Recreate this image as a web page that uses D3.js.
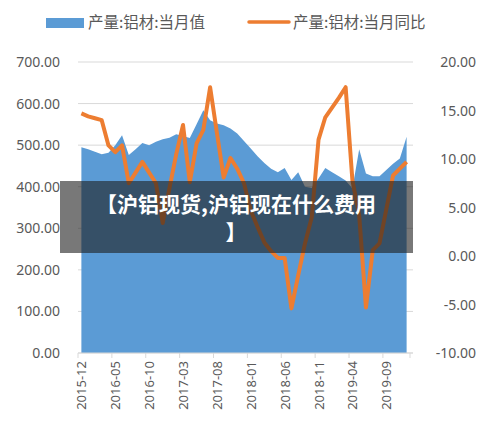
<!DOCTYPE html>
<html><head><meta charset="utf-8">
<script src="https://cdn.jsdelivr.net/npm/d3@7"></script>
<style>
body{margin:0;background:#fff;font-family:"Noto Sans CJK SC","Noto Sans",sans-serif;}
</style></head>
<body><div id="chart"></div>
<script>
// 月份
var months = [];
for (var i = 0; i < 49; i++) {
  var d = new Date(2015, 11 + i, 1);
  months.push(d.getFullYear() + '-' + String(d.getMonth() + 1).padStart(2, '0'));
}
// 产量:铝材:当月值
var volume = [495,490,484,478,482,500,524,476,490,505,500,508,514,518,526,522,517,550,584,560,
  552,548,540,528,510,492,473,457,443,435,445,416,435,400,397,420,445,435,425,415,
  396,490,432,425,425,440,455,468,520];
// 产量:铝材:当月同比
var yoy = [14.7,14.4,14.2,14.0,11.4,10.7,11.4,7.5,8.6,9.7,8.6,7.5,3.4,7.0,10.5,13.5,7.6,11.6,13.0,17.4,
  12.7,8.1,10.1,9.0,7.5,4.7,3.0,1.4,0.5,-0.2,-0.2,-5.4,-2.0,1.3,4.0,12.0,14.3,15.3,16.3,17.4,
  7.8,4.2,-5.3,0.6,1.3,4.8,8.3,9.0,9.7];
var leftTicks = [0,100,200,300,400,500,600,700];
var rightTicks = [-10,-5,0,5,10,15,20];
var seriesNames = ['产量:铝材:当月值', '产量:铝材:当月同比'];
var bannerText = ['【沪铝现货,沪铝现在什么费用', '】'];

var W = 489, H = 434;
var mLeft = 78, mRight = 410, mTop = 62, mBottom = 353;
var svg = d3.select('#chart').append('svg').attr('width', W).attr('height', H);

var x = d3.scaleBand().domain(months).range([mLeft, mRight]);
var yL = d3.scaleLinear().domain([0, 700]).range([mBottom, mTop]);
var yR = d3.scaleLinear().domain([-10, 20]).range([mBottom, mTop]);
var cx = function(i) { return x(months[i]) + x.bandwidth() / 2; };

// 网格
svg.selectAll('.grid').data(leftTicks).enter().append('line')
  .attr('x1', mLeft).attr('x2', mRight + 3)
  .attr('y1', function(d) { return yL(d); }).attr('y2', function(d) { return yL(d); })
  .attr('stroke', '#d9d9d9');

// 面积
var area = d3.area().x(function(d, i) { return cx(i); })
  .y0(yL(0)).y1(function(d) { return yL(d); });
svg.append('path').datum(volume).attr('d', area).attr('fill', '#5b9bd5');

// 折线
var line = d3.line().x(function(d, i) { return cx(i); }).y(function(d) { return yR(d); });
svg.append('path').datum(yoy).attr('d', line).attr('fill', 'none')
  .attr('stroke', '#ed7d31').attr('stroke-width', 4).attr('stroke-linejoin', 'round');

// 坐标轴
var txt = '#595959';
svg.append('line').attr('x1', mLeft).attr('x2', mRight + 3).attr('y1', mBottom).attr('y2', mBottom).attr('stroke', '#d9d9d9');
svg.selectAll('.tl').data(leftTicks).enter().append('text')
  .attr('x', 60).attr('y', function(d) { return yL(d) + 5; }).attr('text-anchor', 'end')
  .attr('fill', txt).attr('font-size', 14).attr('font-family', 'Noto Sans, sans-serif')
  .text(function(d) { return d.toFixed(2); });
svg.selectAll('.tr').data(rightTicks).enter().append('text')
  .attr('x', 476).attr('y', function(d) { return yR(d) + 5; }).attr('text-anchor', 'end')
  .attr('fill', txt).attr('font-size', 14).attr('font-family', 'Noto Sans, sans-serif')
  .text(function(d) { return d.toFixed(2); });
var tickIdx = d3.range(0, 49, 5);
svg.selectAll('.tk').data(tickIdx.concat([49])).enter().append('line')
  .attr('x1', function(i) { return mLeft + i * x.step(); }).attr('x2', function(i) { return mLeft + i * x.step(); })
  .attr('y1', mBottom).attr('y2', mBottom + 5).attr('stroke', '#d9d9d9');
svg.selectAll('.xl').data(tickIdx).enter().append('text')
  .attr('transform', function(i) { return 'translate(' + (cx(i) + 5) + ',' + (mBottom + 8) + ') rotate(-90)'; })
  .attr('text-anchor', 'end').attr('fill', txt).attr('font-size', 13).attr('font-family', 'Noto Sans, sans-serif')
  .text(function(i) { return months[i]; });

// 图例
var lg = svg.append('g').attr('font-size', 15.5).attr('fill', txt);
lg.append('rect').attr('x', 46).attr('y', 18).attr('width', 38).attr('height', 10).attr('fill', '#5b9bd5');
lg.append('text').attr('x', 88).attr('y', 28).text(seriesNames[0]);
lg.append('line').attr('x1', 249).attr('x2', 289).attr('y1', 22).attr('y2', 22)
  .attr('stroke', '#ed7d31').attr('stroke-width', 3.5).attr('stroke-linecap', 'round');
lg.append('text').attr('x', 293).attr('y', 28).text(seriesNames[1]);

// 横幅
svg.append('rect').attr('x', 60).attr('y', 181).attr('width', 353).attr('height', 72)
  .attr('fill', 'rgba(30,30,30,0.6)');
svg.selectAll('.bn').data(bannerText).enter().append('text')
  .attr('x', 236).attr('y', function(d, i) { return 212 + i * 28; }).attr('text-anchor', 'middle')
  .attr('fill', '#fff').attr('font-size', 21).attr('font-weight', 'bold')
  .text(function(d) { return d; });
</script>
</body></html>
